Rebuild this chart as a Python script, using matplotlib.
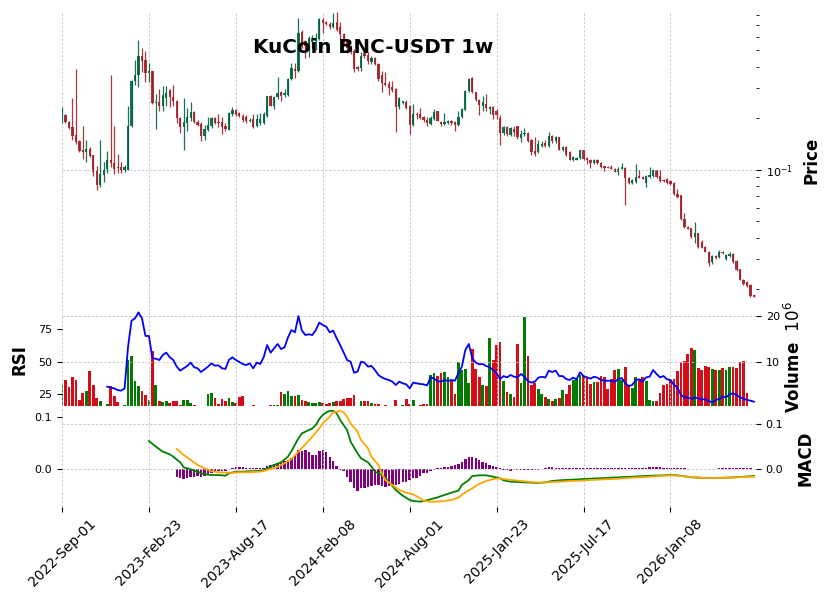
import numpy as np
import pandas as pd
import matplotlib
matplotlib.use("Agg")
import matplotlib.pyplot as plt
from matplotlib.ticker import NullFormatter, LogLocator

# weekly candles, KuCoin BNC-USDT
dates = pd.date_range("2022-09-01", periods=200, freq="7D")

opens = [
    0.2006, 0.2098, 0.1911, 0.1768, 0.1604, 0.1461, 0.1295, 0.1265, 0.1328, 0.1226,
    0.0978, 0.0817, 0.0935, 0.1012, 0.1146, 0.1098, 0.1034, 0.1034, 0.0999, 0.0999,
    0.1793, 0.3281, 0.3572, 0.4628, 0.4365, 0.3651, 0.3787, 0.2442, 0.2499, 0.2344,
    0.2633, 0.2931, 0.2669, 0.2533, 0.2006, 0.1768, 0.1877, 0.2006, 0.2185, 0.1911,
    0.1852, 0.1583, 0.1707, 0.1810, 0.2006, 0.1911, 0.1911, 0.1793, 0.1714, 0.2118,
    0.2241, 0.2135, 0.2069, 0.2022, 0.1919, 0.1987, 0.1793, 0.1877, 0.1877, 0.2069,
    0.2680, 0.2367, 0.2644, 0.2857, 0.2732, 0.2732, 0.3383, 0.3901, 0.3787, 0.6390,
    0.5663, 0.5291, 0.5587, 0.5663, 0.5787, 0.7493, 0.7336, 0.7110, 0.6799, 0.7276,
    0.6799, 0.6218, 0.5663, 0.5220, 0.4964, 0.3976, 0.3922, 0.4820, 0.4691, 0.4255,
    0.4485, 0.4158, 0.3587, 0.3223, 0.3180, 0.3040, 0.2971, 0.2325, 0.2465, 0.2489,
    0.2357, 0.1817, 0.2126, 0.2118, 0.2022, 0.1952, 0.1852, 0.1979, 0.2194, 0.1911,
    0.1852, 0.1877, 0.1929, 0.1911, 0.1835, 0.2022, 0.2241, 0.2896, 0.3458, 0.2830,
    0.2563, 0.2367, 0.2422, 0.2263, 0.2313, 0.2215, 0.1995, 0.1633, 0.1768, 0.1604,
    0.1731, 0.1793, 0.1526, 0.1620, 0.1642, 0.1481, 0.1278, 0.1265, 0.1384, 0.1435,
    0.1371, 0.1568, 0.1461, 0.1547, 0.1305, 0.1352, 0.1265, 0.1133, 0.1146, 0.1166,
    0.1295, 0.1173, 0.1141, 0.1092, 0.1141, 0.1092, 0.1044, 0.1034, 0.1030, 0.1012,
    0.0974, 0.1012, 0.1026, 0.0897, 0.0835, 0.0846, 0.0913, 0.0905, 0.0839, 0.0905,
    0.0917, 0.0991, 0.0913, 0.0873, 0.0885, 0.0858, 0.0839, 0.0718, 0.0708, 0.0517,
    0.0463, 0.0453, 0.0404, 0.0424, 0.0378, 0.0353, 0.0331, 0.0289, 0.0312, 0.0307,
    0.0331, 0.0299, 0.0312, 0.0321, 0.0293, 0.0262, 0.0227, 0.0220, 0.0212, 0.0185,
]
highs = [
    0.2313, 0.2118, 0.1937, 0.2623, 0.3869, 0.1481, 0.1810, 0.1481, 0.1352, 0.1226,
    0.1049, 0.1481, 0.1107, 0.1283, 0.3572, 0.1810, 0.1238, 0.1107, 0.1069, 0.2367,
    0.3330, 0.4365, 0.5708, 0.5128, 0.4953, 0.4232, 0.3800, 0.2769, 0.2959, 0.3094,
    0.3094, 0.2959, 0.3137, 0.2552, 0.2022, 0.2623, 0.2294, 0.2499, 0.2215, 0.1952,
    0.1893, 0.1827, 0.2042, 0.2042, 0.2022, 0.2118, 0.2042, 0.1867, 0.2164, 0.2313,
    0.2263, 0.2164, 0.2118, 0.2089, 0.2014, 0.2118, 0.2118, 0.2147, 0.2164, 0.2706,
    0.2732, 0.2706, 0.3505, 0.2896, 0.2959, 0.3458, 0.4198, 0.4198, 0.7669, 0.6554,
    0.5732, 0.6052, 0.6110, 0.6329, 0.7731, 0.7731, 0.7443, 0.7276, 0.8241, 0.8320,
    0.7276, 0.6303, 0.5810, 0.5363, 0.5080, 0.4063, 0.4866, 0.4953, 0.4866, 0.4609,
    0.4547, 0.4215, 0.3796, 0.3721, 0.3319, 0.3319, 0.2999, 0.2659, 0.2533, 0.2538,
    0.2376, 0.2422, 0.2164, 0.2294, 0.2069, 0.2022, 0.2050, 0.2263, 0.2215, 0.1937,
    0.2147, 0.1952, 0.1960, 0.1937, 0.2215, 0.2294, 0.2919, 0.3458, 0.3490, 0.2857,
    0.2587, 0.2680, 0.2769, 0.2367, 0.2344, 0.2272, 0.2089, 0.1793, 0.1793, 0.1768,
    0.1793, 0.1810, 0.1714, 0.1745, 0.1671, 0.1513, 0.1547, 0.1481, 0.1461, 0.1481,
    0.1671, 0.1598, 0.1583, 0.1561, 0.1384, 0.1371, 0.1278, 0.1199, 0.1182, 0.1305,
    0.1311, 0.1182, 0.1151, 0.1151, 0.1151, 0.1107, 0.1054, 0.1044, 0.1059, 0.1026,
    0.1034, 0.1092, 0.1034, 0.0905, 0.0877, 0.1083, 0.0991, 0.0913, 0.0926, 0.1034,
    0.1003, 0.0999, 0.0991, 0.0880, 0.0893, 0.0866, 0.0846, 0.0774, 0.0715, 0.0558,
    0.0467, 0.0457, 0.0495, 0.0427, 0.0390, 0.0357, 0.0334, 0.0317, 0.0317, 0.0339,
    0.0334, 0.0321, 0.0331, 0.0324, 0.0296, 0.0264, 0.0228, 0.0222, 0.0214, 0.0188,
]
lows = [
    0.1867, 0.1877, 0.1731, 0.1481, 0.1416, 0.1265, 0.1157, 0.1107, 0.1182, 0.0913,
    0.0763, 0.0791, 0.0846, 0.0955, 0.1034, 0.0948, 0.0955, 0.0955, 0.0968, 0.0995,
    0.1768, 0.3137, 0.3024, 0.3700, 0.3236, 0.3236, 0.2422, 0.1731, 0.2215, 0.2215,
    0.2367, 0.2313, 0.2367, 0.1867, 0.1633, 0.1295, 0.1678, 0.1937, 0.1867, 0.1810,
    0.1467, 0.1481, 0.1678, 0.1754, 0.1852, 0.1785, 0.1620, 0.1678, 0.1694, 0.2069,
    0.2069, 0.2022, 0.1893, 0.1877, 0.1893, 0.1745, 0.1785, 0.1827, 0.1852, 0.2022,
    0.2344, 0.2263, 0.2587, 0.2533, 0.2644, 0.2680, 0.3351, 0.3458, 0.3736, 0.5170,
    0.4522, 0.4584, 0.5170, 0.5011, 0.5708, 0.6277, 0.6967, 0.6643, 0.6707, 0.6491,
    0.5810, 0.5436, 0.4820, 0.4755, 0.3721, 0.3796, 0.3796, 0.4504, 0.4158, 0.4158,
    0.4102, 0.3319, 0.2845, 0.3082, 0.2717, 0.2845, 0.1664, 0.2272, 0.2432, 0.2272,
    0.1626, 0.1810, 0.1979, 0.1979, 0.1911, 0.1810, 0.1835, 0.1960, 0.1919, 0.1810,
    0.1827, 0.1852, 0.1835, 0.1678, 0.1810, 0.2006, 0.2226, 0.2857, 0.2807, 0.2533,
    0.2089, 0.2215, 0.2215, 0.2118, 0.1979, 0.1987, 0.1397, 0.1598, 0.1583, 0.1583,
    0.1583, 0.1513, 0.1447, 0.1583, 0.1447, 0.1210, 0.1199, 0.1255, 0.1365, 0.1352,
    0.1352, 0.1435, 0.1435, 0.1295, 0.1283, 0.1199, 0.1133, 0.1122, 0.1133, 0.1157,
    0.1146, 0.1083, 0.1026, 0.1083, 0.1073, 0.1026, 0.0978, 0.1016, 0.1003, 0.0964,
    0.0926, 0.1003, 0.0619, 0.0828, 0.0828, 0.0835, 0.0888, 0.0877, 0.0791, 0.0897,
    0.0905, 0.0897, 0.0846, 0.0851, 0.0828, 0.0809, 0.0708, 0.0686, 0.0510, 0.0453,
    0.0447, 0.0401, 0.0373, 0.0346, 0.0346, 0.0329, 0.0274, 0.0280, 0.0300, 0.0303,
    0.0321, 0.0296, 0.0309, 0.0285, 0.0257, 0.0225, 0.0212, 0.0207, 0.0179, 0.0179,
]
closes = [
    0.2098, 0.1893, 0.1754, 0.1583, 0.1447, 0.1283, 0.1260, 0.1323, 0.1199, 0.0968,
    0.0817, 0.0939, 0.0999, 0.1146, 0.1098, 0.1012, 0.1016, 0.0991, 0.1034, 0.1810,
    0.3312, 0.3572, 0.4628, 0.4331, 0.3651, 0.3787, 0.2442, 0.2499, 0.2344, 0.2743,
    0.2818, 0.2644, 0.2509, 0.2006, 0.1768, 0.1893, 0.2022, 0.2185, 0.1893, 0.1835,
    0.1583, 0.1731, 0.1835, 0.2006, 0.1885, 0.1877, 0.1768, 0.1721, 0.2156, 0.2241,
    0.2098, 0.2050, 0.1960, 0.1937, 0.1960, 0.1768, 0.1979, 0.1979, 0.2118, 0.2680,
    0.2367, 0.2644, 0.2807, 0.2680, 0.2807, 0.3411, 0.3954, 0.3787, 0.6329, 0.5291,
    0.5291, 0.5866, 0.5914, 0.5914, 0.7565, 0.7178, 0.7110, 0.6799, 0.7208, 0.6581,
    0.6218, 0.5564, 0.5149, 0.4953, 0.3885, 0.3885, 0.4647, 0.4628, 0.4290, 0.4485,
    0.4158, 0.3397, 0.3223, 0.3137, 0.2999, 0.2903, 0.2325, 0.2623, 0.2509, 0.2294,
    0.1817, 0.2118, 0.2084, 0.1995, 0.1960, 0.1867, 0.1995, 0.2185, 0.1937, 0.1852,
    0.1893, 0.1937, 0.1867, 0.1835, 0.2022, 0.2263, 0.2896, 0.3411, 0.2830, 0.2552,
    0.2399, 0.2475, 0.2281, 0.2313, 0.2089, 0.2098, 0.1633, 0.1768, 0.1620, 0.1745,
    0.1671, 0.1547, 0.1620, 0.1642, 0.1461, 0.1265, 0.1238, 0.1416, 0.1416, 0.1371,
    0.1568, 0.1467, 0.1547, 0.1305, 0.1352, 0.1210, 0.1146, 0.1182, 0.1166, 0.1295,
    0.1157, 0.1133, 0.1092, 0.1141, 0.1092, 0.1034, 0.1026, 0.1026, 0.1012, 0.0974,
    0.1012, 0.1034, 0.0897, 0.0835, 0.0866, 0.0905, 0.0897, 0.0885, 0.0913, 0.0926,
    0.0991, 0.0905, 0.0858, 0.0858, 0.0839, 0.0828, 0.0718, 0.0692, 0.0512, 0.0459,
    0.0451, 0.0404, 0.0424, 0.0353, 0.0350, 0.0331, 0.0283, 0.0312, 0.0303, 0.0331,
    0.0324, 0.0317, 0.0321, 0.0287, 0.0259, 0.0227, 0.0215, 0.0209, 0.0183, 0.0181,
]
# volume in millions
volumes = [
    5.10, 6.18, 4.74, 6.75, 6.18, 1.86, 3.30, 3.80, 8.12, 5.10,
    2.36, 1.64, 0.30, 0.92, 4.88, 2.72, 1.50, 0.30, 0.78, 10.50,
    11.36, 6.03, 4.88, 3.80, 2.94, 1.86, 12.44, 5.10, 1.64, 1.50,
    1.64, 1.28, 1.64, 1.64, 0.78, 1.86, 1.86, 1.14, 0.78, 0.30,
    0.63, 0.63, 3.08, 3.30, 2.22, 0.92, 2.07, 1.71, 2.22, 1.50,
    1.14, 2.43, 2.72, 0.30, 0.30, 0.78, 0.30, 0.30, 0.30, 0.30,
    0.78, 0.78, 0.78, 3.51, 3.08, 3.80, 2.72, 2.72, 2.94, 1.86,
    1.71, 1.50, 1.28, 1.28, 1.50, 1.14, 0.99, 1.14, 1.50, 1.64,
    1.64, 2.00, 2.22, 2.36, 2.94, 0.30, 1.64, 1.64, 1.64, 1.14,
    0.99, 0.92, 0.50, 0.78, 0.40, 0.40, 1.86, 0.40, 0.78, 2.07,
    0.99, 1.86, 0.30, 0.78, 0.99, 0.99, 7.26, 7.60, 7.05, 7.60,
    7.84, 6.90, 5.96, 3.08, 9.99, 8.34, 8.55, 5.46, 12.80, 8.55,
    6.75, 5.10, 4.88, 15.18, 10.60, 13.74, 14.30, 6.03, 3.51, 3.08,
    2.43, 14.00, 5.46, 19.85, 11.36, 5.10, 5.46, 4.23, 3.15, 2.56,
    2.07, 1.64, 2.07, 2.29, 4.02, 3.08, 5.03, 6.18, 6.39, 7.26,
    7.05, 6.75, 5.31, 5.82, 5.82, 7.05, 6.75, 4.23, 6.32, 8.34,
    8.55, 6.18, 8.91, 5.10, 4.52, 6.75, 6.39, 6.75, 5.96, 1.86,
    1.71, 1.71, 3.30, 5.10, 5.24, 6.18, 6.39, 8.12, 10.14, 10.36,
    11.79, 13.00, 12.59, 8.70, 8.34, 9.21, 8.91, 8.55, 8.34, 8.34,
    8.70, 8.34, 8.91, 8.91, 8.70, 10.07, 10.21, 3.30, 0.50, 0.30,
]

# RSI(14), first value at candle 13
rsi_start = 13
rsi = [
    30.7, 30.0, 29.4, 28.1, 27.6, 29.4, 61.6, 81.7, 83.5, 88.1,
    83.5, 69.9, 69.9, 52.6, 52.3, 51.3, 55.2, 57.0, 53.4, 51.3,
    46.2, 43.1, 44.9, 46.7, 49.3, 45.7, 44.9, 42.0, 44.1, 46.2,
    48.7, 46.9, 47.2, 44.9, 44.4, 51.3, 53.4, 51.3, 49.8, 48.2,
    47.4, 48.7, 44.9, 49.3, 48.2, 53.4, 62.9, 57.0, 60.3, 63.7,
    59.8, 61.1, 68.8, 74.5, 72.7, 85.3, 74.0, 70.6, 71.2, 70.6,
    74.5, 80.2, 78.4, 77.1, 72.7, 74.0, 68.1, 62.9, 57.0, 51.3,
    50.0, 41.5, 42.3, 50.0, 49.3, 46.2, 46.7, 43.6, 39.7, 37.9,
    36.6, 35.9, 34.6, 32.0, 34.6, 33.3, 32.5, 29.4, 33.8, 33.3,
    32.8, 32.5, 31.7, 37.9, 36.9, 35.1, 34.6, 35.9, 35.1, 35.9,
    35.3, 41.0, 46.2, 59.0, 63.7, 52.6, 49.3, 48.0, 48.2, 46.7,
    45.7, 43.6, 41.0, 36.6, 38.9, 37.9, 39.7, 38.4, 37.9, 40.5,
    38.4, 35.1, 33.8, 34.6, 37.7, 38.4, 37.7, 43.1, 42.0, 43.1,
    38.9, 38.9, 36.6, 35.9, 37.7, 36.4, 41.8, 38.9, 37.9, 36.9,
    38.4, 37.7, 35.9, 35.3, 35.3, 35.1, 34.6, 36.4, 37.4, 33.3,
    31.2, 32.0, 35.9, 36.4, 34.6, 37.9, 38.4, 43.6, 40.5, 37.9,
    38.9, 36.4, 35.9, 32.0, 30.2, 24.3, 22.5, 22.2, 21.4, 22.2,
    21.7, 20.9, 20.9, 19.6, 18.6, 20.4, 21.2, 23.0, 22.5, 24.8,
    25.6, 24.3, 22.5, 21.4, 20.4, 19.9, 19.1,
]

# MACD line, read at these candles
macd_idx = [25, 27, 29, 31, 32, 34, 35, 37, 39, 41, 43, 45, 47, 48, 50, 52, 54, 56,
            58, 59, 61, 63, 65, 66, 68, 69, 71, 72, 73, 74, 75, 76, 77, 78, 79, 80,
            82, 83, 85, 86, 88, 89, 90, 92, 94, 96, 98, 100, 101, 103, 104, 106, 108,
            110, 112, 114, 115, 117, 118, 120, 122, 124, 126, 127, 129, 131, 133, 135,
            137, 139, 141, 143, 147, 150, 154, 158, 162, 166, 170, 173, 175, 177, 179,
            181, 183, 185, 187, 191, 195, 199]
macd_val = [0.0629, 0.0503, 0.0392, 0.0333, 0.0281, 0.0155, 0.0044, 0.0000, -0.0053,
            -0.0112, -0.0127, -0.0127, -0.0142, -0.0090, -0.0053, -0.0053, -0.0045,
            -0.0038, -0.0023, 0.0022, 0.0096, 0.0155, 0.0281, 0.0407, 0.0688, 0.0799,
            0.0873, 0.0910, 0.0984, 0.1118, 0.1207, 0.1266, 0.1296, 0.1296, 0.1244,
            0.1096, 0.0873, 0.0614, 0.0355, 0.0244, 0.0155, 0.0058, -0.0053, -0.0127,
            -0.0275, -0.0460, -0.0586, -0.0682, -0.0704, -0.0719, -0.0704, -0.0667,
            -0.0623, -0.0571, -0.0519, -0.0475, -0.0349, -0.0238, -0.0149, -0.0134,
            -0.0134, -0.0164, -0.0201, -0.0245, -0.0275, -0.0282, -0.0290, -0.0297,
            -0.0304, -0.0290, -0.0260, -0.0245, -0.0230, -0.0216, -0.0201, -0.0186,
            -0.0171, -0.0156, -0.0142, -0.0134, -0.0127, -0.0134, -0.0156, -0.0178,
            -0.0186, -0.0193, -0.0193, -0.0186, -0.0171, -0.0149]

# signal line
signal_idx = [33, 35, 37, 39, 41, 43, 45, 47, 49, 51, 53, 55, 57, 58, 60, 62, 64, 66,
              68, 70, 72, 74, 75, 77, 78, 80, 81, 82, 83, 85, 86, 88, 89, 91, 92, 93,
              95, 97, 99, 101, 103, 104, 106, 108, 110, 112, 114, 116, 118, 120, 122,
              124, 126, 127, 130, 133, 136, 138, 141, 145, 149, 152, 156, 160, 164,
              168, 172, 175, 178, 181, 185, 189, 193, 196, 199]
signal_val = [0.0451, 0.0318, 0.0207, 0.0096, 0.0022, -0.0038, -0.0067, -0.0075,
              -0.0075, -0.0067, -0.0067, -0.0060, -0.0053, -0.0038, 0.0007, 0.0058,
              0.0133, 0.0229, 0.0392, 0.0555, 0.0725, 0.0910, 0.1022, 0.1170, 0.1266,
              0.1296, 0.1266, 0.1170, 0.1022, 0.0836, 0.0651, 0.0466, 0.0281, 0.0096,
              -0.0090, -0.0238, -0.0349, -0.0460, -0.0520, -0.0556, -0.0645, -0.0697,
              -0.0719, -0.0719, -0.0704, -0.0682, -0.0630, -0.0512, -0.0423, -0.0327,
              -0.0260, -0.0216, -0.0201, -0.0216, -0.0245, -0.0267, -0.0290, -0.0297,
              -0.0282, -0.0267, -0.0253, -0.0238, -0.0223, -0.0208, -0.0186, -0.0171,
              -0.0149, -0.0134, -0.0149, -0.0171, -0.0193, -0.0193, -0.0186, -0.0171,
              -0.0164]

# histogram, first bar at candle 33
hist_start = 33
hist = [
    -0.0140, -0.0172, -0.0184, -0.0172, -0.0140, -0.0140, -0.0127, -0.0146, -0.0121, -0.0096,
    -0.0077, -0.0045, -0.0032, -0.0032, -0.0032, 0.0000, 0.0018, 0.0037, 0.0050, 0.0037,
    0.0031, 0.0018, 0.0018, 0.0018, 0.0018, 0.0018, 0.0063, 0.0082, 0.0107, 0.0114,
    0.0133, 0.0158, 0.0177, 0.0209, 0.0272, 0.0367, 0.0348, 0.0367, 0.0323, 0.0272,
    0.0272, 0.0348, 0.0367, 0.0323, 0.0240, 0.0158, 0.0069, -0.0010, -0.0032, -0.0140,
    -0.0235, -0.0349, -0.0413, -0.0362, -0.0349, -0.0330, -0.0317, -0.0298, -0.0298, -0.0317,
    -0.0330, -0.0317, -0.0298, -0.0298, -0.0286, -0.0235, -0.0235, -0.0203, -0.0159, -0.0159,
    -0.0121, -0.0077, -0.0064, -0.0032, -0.0013, 0.0018, 0.0031, 0.0037, 0.0050, 0.0063,
    0.0075, 0.0094, 0.0145, 0.0196, 0.0234, 0.0228, 0.0209, 0.0177, 0.0133, 0.0114,
    0.0082, 0.0063, 0.0037, 0.0018, -0.0013, -0.0020, -0.0026, -0.0020, -0.0013, -0.0013,
    -0.0013, -0.0020, -0.0020, -0.0013, -0.0005, 0.0005, 0.0031, 0.0044, 0.0044, 0.0031,
    0.0025, 0.0018, 0.0018, 0.0018, 0.0018, 0.0018, 0.0018, 0.0018, 0.0018, 0.0018,
    0.0018, 0.0018, 0.0018, 0.0018, 0.0018, 0.0018, 0.0018, 0.0018, 0.0018, 0.0018,
    0.0018, 0.0018, 0.0018, 0.0018, 0.0018, 0.0018, 0.0044, 0.0044, 0.0044, 0.0044,
    0.0031, 0.0025, 0.0018, 0.0018, 0.0018, 0.0018, 0.0018, 0.0012, 0.0012, 0.0012,
    0.0012, 0.0012, 0.0012, 0.0000, 0.0000, 0.0000, 0.0018, 0.0018, 0.0018, 0.0018,
    0.0018, 0.0018, 0.0018, 0.0018, 0.0018, 0.0018,
]

UP, DOWN = "#006340", "#A02128"
VUP, VDOWN = "#007a00", "#d50d18"
GRID = dict(color="#c4c4c4", linestyle=(0, (3, 2)), linewidth=0.6)

o = np.array(opens); h = np.array(highs); l = np.array(lows); c = np.array(closes)
x = np.arange(len(c))
up = c >= o

W, H = 831, 599
fig = plt.figure(figsize=(W / 100, H / 100), dpi=100)
left, width = 62 / W, 694 / W
ax_p = fig.add_axes([left, 1 - 307 / H, width, 295 / H])
ax_v = fig.add_axes([left, 1 - 406 / H, width, 99 / H], sharex=ax_p)
ax_m = fig.add_axes([left, 1 - 507 / H, width, 101 / H], sharex=ax_p)

# --- price candles
ccol = np.where(up, UP, DOWN)
ax_p.vlines(x, l, h, colors=ccol, linewidth=0.9, alpha=0.9)
ax_p.bar(x, np.abs(c - o), bottom=np.minimum(o, c), width=0.65, color=ccol,
         alpha=0.9, linewidth=0)
ax_p.set_yscale("log")
ax_p.set_ylim(0.01573, 0.8354)
ax_p.set_xlim(0, 199.6)
ax_p.yaxis.tick_right()
ax_p.yaxis.set_major_locator(LogLocator(base=10))
ax_p.yaxis.set_minor_locator(LogLocator(base=10, subs=np.arange(2, 10)))
ax_p.yaxis.set_minor_formatter(NullFormatter())
ax_p.grid(True, which="major", **GRID)

# --- volume + RSI
vcol = np.where(up, VUP, VDOWN)
ax_v.bar(x, volumes, width=0.8, color=vcol, linewidth=0)
ax_v.set_ylim(0.56, 21.94)
ax_v.set_yticks([10, 20])
ax_v.grid(True, **GRID)

ax_r = ax_v.twinx()
ax_r.plot(np.arange(rsi_start, rsi_start + len(rsi)), rsi, color="blue", linewidth=1.3)
ax_r.set_ylim(15.77, 92.27)
ax_r.set_yticks([25, 50, 75])
ax_v.yaxis.tick_right()
ax_r.yaxis.tick_left()

# --- MACD
ax_m.bar(np.arange(hist_start, hist_start + len(hist)), hist, width=0.7,
         color="purple", linewidth=0)
ax_m.set_ylim(-0.0717, 0.1203)
ax_m.set_yticks([0.0, 0.1])
ax_m.set_yticklabels(["0.0", "0.1"])
ax_m.grid(True, axis="x", **GRID)

ax_m2 = ax_m.twinx()
ax_m2.plot(macd_idx, macd_val, color="green", linewidth=1.3)
ax_m2.plot(signal_idx, signal_val, color="orange", linewidth=1.3)
ax_m2.set_ylim(-0.0838, 0.1407)
ax_m2.set_yticks([0.0, 0.1])
ax_m2.set_yticklabels(["0.0", "0.1"])
ax_m2.grid(True, axis="y", **GRID)
ax_m.yaxis.tick_left()
ax_m2.yaxis.tick_right()

tick_pos = list(range(0, 200, 25))
ax_m.set_xticks(tick_pos)
ax_m.set_xticklabels([dates[i].strftime("%Y-%b-%d") for i in tick_pos],
                     rotation=45, ha="center", fontsize=10)
ax_m.set_xlim(0, 199.6)

for a in (ax_p, ax_v):
    a.tick_params(axis="x", length=0, labelbottom=False)
    a.grid(True, axis="x", **GRID)
for a in (ax_p, ax_v, ax_r, ax_m, ax_m2):
    for s in a.spines.values():
        s.set_visible(False)
    a.tick_params(axis="y", labelsize=8)
ax_p.tick_params(axis="y", which="minor", length=2.5)

fig.text(373.5 / W, 1 - 53.3 / H, "KuCoin BNC-USDT 1w", fontsize=14.3,
         fontweight="bold", ha="center", va="baseline")
fig.text(811.5 / W, 1 - 160.5 / H, "Price", rotation=90, fontsize=12,
         fontweight="bold", ha="center", va="center")
fig.text(19 / W, 1 - 360 / H, "RSI", rotation=90, fontsize=12,
         fontweight="bold", ha="center", va="center")
fig.text(794 / W, 1 - 357.5 / H, "Volume  $10^{6}$", rotation=90, fontsize=12,
         fontweight="bold", ha="center", va="center")
fig.text(805 / W, 1 - 458 / H, "MACD", rotation=90, fontsize=12,
         fontweight="bold", ha="center", va="center")

fig.savefig("out.png", dpi=100)
